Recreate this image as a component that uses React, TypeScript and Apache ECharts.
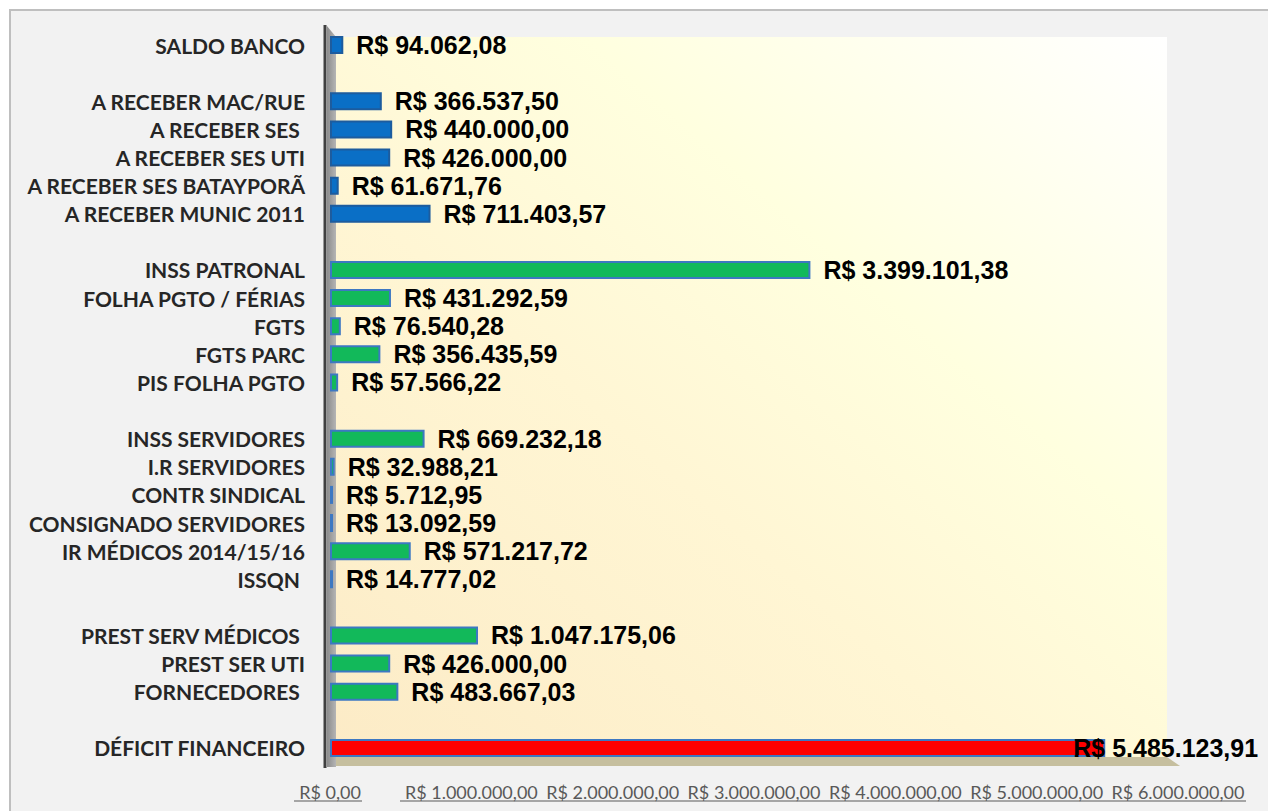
import React, { useEffect, useRef } from "react";
import * as echarts from "echarts";

const categories: string[] = [
  "SALDO BANCO", "",
  "A RECEBER MAC/RUE", "A RECEBER SES ", "A RECEBER SES UTI", "A RECEBER SES BATAYPORÃ", "A RECEBER MUNIC 2011", "",
  "INSS PATRONAL", "FOLHA PGTO / FÉRIAS", "FGTS", "FGTS PARC", "PIS FOLHA PGTO", "",
  "INSS SERVIDORES", "I.R SERVIDORES", "CONTR SINDICAL", "CONSIGNADO SERVIDORES", "IR MÉDICOS 2014/15/16", "ISSQN ", "",
  "PREST SERV MÉDICOS ", "PREST SER UTI", "FORNECEDORES ", "",
  "DÉFICIT FINANCEIRO",
];

const values: (number | null)[] = [
  94062.08, null,
  366537.5, 440000.0, 426000.0, 61671.76, 711403.57, null,
  3399101.38, 431292.59, 76540.28, 356435.59, 57566.22, null,
  669232.18, 32988.21, 5712.95, 13092.59, 571217.72, 14777.02, null,
  1047175.06, 426000.0, 483667.03, null,
  5485123.91,
];

// A = a receber (blue), D = dívidas (green), F = déficit (red)
const groups: string[] = [
  "A", "",
  "A", "A", "A", "A", "A", "",
  "D", "D", "D", "D", "D", "",
  "D", "D", "D", "D", "D", "D", "",
  "D", "D", "D", "",
  "F",
];

const axisMin = 0;
const axisMax = 6000000;
const axisInterval = 1000000;

const groupColors: Record<string, string> = { A: "#0a6fc6", D: "#12b95a", F: "#ff0000" };

function brl(v: number): string {
  const [i, d] = Math.abs(v).toFixed(2).split(".");
  return "R$ " + i.replace(/\B(?=(\d{3})+(?!\d))/g, ".") + "," + d;
}

export default function App() {
  const ref = useRef<HTMLDivElement>(null);
  useEffect(() => {
    if (!ref.current) return;
    const chart = echarts.init(ref.current, undefined, { renderer: "svg" });
    const data = values.map((v, i) => {
      if (v === null) return { value: null };
      const g = groups[i];
      const item: any = {
        value: v,
        itemStyle: {
          color: groupColors[g],
          borderColor: g === "A" ? "#1d5c9e" : "#3d78c2",
          borderWidth: 2,
        },
      };
      if (g === "F") {
        item.label = { offset: [-45, 0] };
      }
      return item;
    });
    chart.setOption({
      animation: false,
      backgroundColor: "#ffffff",
      textStyle: { fontFamily: "Lato" },
      grid: { left: 330, top: 31, width: 848, height: 731, containLabel: false },
      xAxis: {
        type: "value",
        min: axisMin,
        max: axisMax,
        interval: axisInterval,
        splitLine: { show: false },
        axisLine: { show: false },
        axisTick: { show: false },
        axisLabel: {
          formatter: (v: number) => brl(v),
          color: "#595959",
          fontSize: 18,
          fontFamily: "Lato",
          margin: 21,
          showMaxLabel: true,
          showMinLabel: true,
        },
      },
      yAxis: {
        type: "category",
        inverse: true,
        data: categories,
        axisLine: { show: false },
        axisTick: { show: false },
        axisLabel: {
          interval: 0,
          margin: 25,
          color: "#262626",
          fontSize: 21,
          lineHeight: 24,
          fontWeight: "bold",
          fontFamily: "Lato",
        },
      },
      graphic: [
        { type: "rect", z: -20, shape: { x: 10, y: 10, width: 1270, height: 820 }, style: { fill: "#f2f2f2", stroke: "#bfbfbf", lineWidth: 2 } },
        {
          type: "rect", z: -19, shape: { x: 336, y: 37, width: 831, height: 720 },
          style: {
            fill: new echarts.graphic.LinearGradient(0, 1, 1, 0, [
              { offset: 0, color: "#fcebc6" },
              { offset: 0.4, color: "#fff6d4" },
              { offset: 0.65, color: "#ffffdf" },
              { offset: 1, color: "#ffffff" },
            ]),
          },
        },
        { type: "polygon", z: -18, shape: { points: [[330, 757], [1167, 757], [1180, 766], [336, 766]] }, style: { fill: "#c6bf9f" } },
        {
          type: "polygon", z: -18, shape: { points: [[327, 26], [336, 37], [336, 767], [327, 767]] },
          style: { fill: new echarts.graphic.LinearGradient(0, 0, 1, 0, [{ offset: 0, color: "#8c8c8c" }, { offset: 1, color: "#b5b5b5" }]) },
        },
        { type: "line", z: -17, shape: { x1: 325, y1: 25, x2: 325, y2: 768 }, style: { stroke: "#404040", lineWidth: 3 } },
        { type: "line", z: 5, shape: { x1: 294, y1: 801, x2: 362, y2: 801 }, style: { stroke: "#595959", lineWidth: 1 } },
        { type: "line", z: 5, shape: { x1: 400, y1: 801, x2: 1246, y2: 801 }, style: { stroke: "#595959", lineWidth: 1 } },
      ],
      series: [
        {
          type: "bar",
          data,
          barWidth: 18,
          barMinHeight: 3,
          label: {
            show: true,
            position: "right",
            distance: 13,
            formatter: (p: any) => (p.value == null ? "" : brl(p.value)),
            color: "#000000",
            fontSize: 25,
            lineHeight: 26,
            fontWeight: "bold",
            fontFamily: "Liberation Sans",
          },
        },
      ],
    });
    return () => chart.dispose();
  }, []);
  return <div ref={ref} style={{ position: "fixed", left: 0, top: 0, width: 1268, height: 811 }} />;
}
